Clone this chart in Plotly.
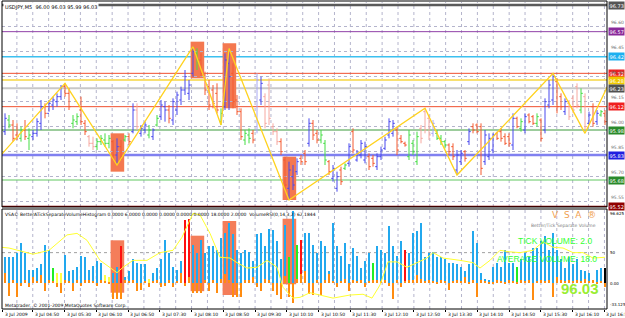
import plotly.graph_objects as go

# ---------------- data ----------------
high = [96.08,96.07,96.04,96.02,96.00,96.04,95.99,95.98,96.05,96.16,96.14,96.16,96.18,96.20,96.25,96.26,96.23,96.07,96.08,96.18,
        96.04,95.95,95.94,95.93,95.95,95.96,95.95,95.92,95.93,95.92,95.95,95.96,96.14,96.14,96.01,96.03,96.01,95.99,96.07,96.16,
        96.15,96.13,96.17,96.21,96.24,96.34,96.28,96.48,96.47,96.44,96.33,96.28,96.25,96.26,96.11,96.44,96.47,96.38,96.19,96.11,
        95.98,95.99,95.98,96.32,96.30,96.20,96.29,96.02,95.99,95.93,95.82,95.79,95.77,95.81,95.83,95.86,96.05,96.04,95.98,95.98,
        95.92,95.80,95.77,95.73,95.76,95.78,95.90,95.99,95.86,95.92,95.91,95.84,95.83,95.84,95.88,95.94,96.05,96.04,96.00,95.95,
        95.91,95.98,95.92,95.97,96.01,96.11,96.07,96.04,95.98,95.95,95.92,95.90,95.90,95.86,95.86,95.86,95.99,96.02,96.02,96.02,
        95.98,95.96,95.96,95.97,95.99,95.96,95.96,96.08,96.06,96.05,96.08,96.08,96.07,96.08,96.05,96.17,96.28,96.32,96.29,96.20,
        96.17,96.16,96.19,96.26,96.23,96.20,96.09,96.14,96.10,96.10,96.10]
low = [95.95,95.99,95.91,95.92,95.91,95.92,95.86,95.92,95.94,95.98,96.05,96.09,96.10,96.12,96.16,96.18,96.10,95.99,96.01,96.01,
       95.95,95.88,95.86,95.86,95.89,95.88,95.87,95.80,95.77,95.80,95.91,95.89,95.96,95.98,95.94,95.96,95.93,95.92,96.00,96.04,
       96.03,96.02,96.01,96.07,96.13,96.19,96.16,96.30,96.34,96.30,96.19,96.10,96.11,96.08,96.01,96.10,96.10,96.11,96.07,95.92,
       95.89,95.90,95.90,95.96,96.13,95.99,96.01,95.95,95.89,95.83,95.62,95.56,95.62,95.71,95.77,95.77,95.88,95.92,95.90,95.90,
       95.77,95.71,95.67,95.61,95.65,95.74,95.76,95.84,95.79,95.81,95.78,95.74,95.76,95.74,95.80,95.86,95.93,95.94,95.83,95.90,
       95.88,95.80,95.83,95.77,95.90,95.96,95.92,95.94,95.92,95.89,95.87,95.83,95.80,95.71,95.77,95.79,95.89,95.96,95.96,95.71,
       95.77,95.80,95.84,95.92,95.91,95.89,95.88,95.86,95.99,95.97,95.96,96.02,96.01,96.00,95.91,95.96,96.11,96.13,96.08,96.10,
       96.07,96.04,96.08,96.11,96.08,95.98,96.01,96.00,96.01,96.06,96.01]
opn = [95.97,96.04,96.01,95.95,95.93,95.98,95.93,95.94,95.96,96.02,96.12,96.08,96.13,96.15,96.18,96.24,96.20,96.02,96.03,96.10,
       96.02,95.94,95.90,95.88,95.91,95.92,95.90,95.91,95.83,95.88,95.92,95.94,95.97,96.10,95.96,95.98,95.95,95.94,96.01,96.06,
       96.12,96.10,96.04,96.10,96.16,96.22,96.20,96.32,96.44,96.40,96.31,96.24,96.22,96.20,96.03,96.12,96.38,96.32,96.16,96.09,
       95.92,95.95,95.96,95.98,96.16,96.18,96.25,96.00,95.97,95.91,95.80,95.63,95.70,95.73,95.81,95.84,95.90,96.02,95.96,95.92,
       95.90,95.79,95.69,95.63,95.74,95.75,95.78,95.97,95.80,95.83,95.80,95.82,95.81,95.76,95.82,95.87,95.95,95.96,95.98,95.93,
       95.90,95.82,95.90,95.79,95.99,96.09,96.05,95.96,95.96,95.93,95.91,95.89,95.88,95.74,95.79,95.85,95.91,96.00,96.01,96.00,
       95.79,95.82,95.86,95.96,95.97,95.94,95.94,95.89,96.05,95.99,95.98,96.07,96.06,96.02,96.04,95.98,96.13,96.16,96.27,96.18,
       96.09,96.14,96.17,96.24,96.10,96.18,96.02,96.12,96.03,96.07,96.08]
cls = [96.05,96.01,95.93,95.94,95.98,95.94,95.95,95.96,96.03,96.12,96.08,96.14,96.16,96.18,96.24,96.20,96.12,96.04,96.06,96.03,
       95.97,95.90,95.88,95.91,95.93,95.90,95.93,95.83,95.88,95.82,95.94,95.91,96.10,96.00,95.99,96.01,95.98,95.98,96.05,96.13,
       96.10,96.05,96.15,96.19,96.22,96.30,96.25,96.45,96.40,96.32,96.22,96.13,96.14,96.10,96.08,96.40,96.30,96.15,96.09,95.94,
       95.96,95.93,95.92,96.28,96.26,96.02,96.05,95.97,95.91,95.85,95.65,95.74,95.65,95.79,95.79,95.79,96.02,95.95,95.92,95.95,
       95.80,95.73,95.75,95.70,95.67,95.77,95.88,95.86,95.84,95.90,95.88,95.76,95.78,95.82,95.86,95.92,96.03,96.02,95.86,95.91,
       95.89,95.95,95.85,95.94,95.93,95.98,95.95,96.02,95.93,95.91,95.89,95.85,95.82,95.83,95.84,95.81,95.97,95.98,95.97,95.75,
       95.95,95.93,95.95,95.93,95.93,95.90,95.90,96.05,96.00,96.03,96.06,96.03,96.02,96.06,95.93,96.15,96.25,96.30,96.12,96.12,
       96.15,96.06,96.10,96.13,96.20,96.00,96.07,96.02,96.08,96.09,96.03]
bar_kind = list("BGRRGRGBBBRBBBBRRGGRRPPGGGGRBRGRBPBBGBGBBRBBBBBBGRRRRRGBBRRRGGRLBPPPPRRBBBRRBRRGGRBBRGBRBBBRRBBBBBRRRGGGPPPLGGGRRBBRBRRRBBBRRRRBRGBRRGRBBBRRBPPPGPBRBGR")

vol = [34,34,34,39,53,39,17,17,20,25,50,43,20,14,14,37,16,18,22,36,
       34,18,23,29,26,11,9,13,22,49,9,16,32,27,25,25,6,13,20,32,
       57,39,22,18,29,82,84,50,39,57,39,48,48,43,59,66,78,64,43,39,
       43,41,29,64,66,48,71,69,55,32,76,34,94,50,56,65,65,50,39,55,
       48,16,79,48,36,53,25,46,36,20,29,39,27,48,43,39,75,48,36,55,
       43,39,66,68,79,34,39,41,34,34,32,27,27,25,22,16,25,68,53,13,
       6,4,22,27,22,43,27,27,22,32,39,34,46,46,55,62,43,66,43,32,
       20,34,25,32,18,16,13,4,18,20,20]
vol_kind = list("BBBBBBBBBBBBGYYBBBBBBBBBBYYBBRBBBBBBYBBBBBBBBRRBBBBBBBBBBBBBBBBBBBBBBBBGBGRBBBBBBBBBBBBBBBBBGBBBBBBBRBBBBBBBBBBBBBBBBBBBBBBBBBBBGBBBBBBBBBBBBBBBBBBYBB")
sep = [13,-16,5,-18,-3,4,-5,8,3,11,-10,5,3,-5,-12,5,3,-10,4,-3,
       5,5,3,-3,4,3,2,-20,-20,-20,4,3,5,-10,-8,3,-4,3,4,-5,
       -3,5,-4,3,14,-3,8,-12,-12,-12,5,-10,4,-12,6,12,4,-18,-18,-18,
       5,4,8,-5,-10,6,4,-10,-15,-20,10,-18,-25,6,12,16,-14,-15,5,-15,
       4,12,3,-5,3,6,-10,4,3,5,-5,3,4,5,3,4,-3,-20,5,-5,
       3,5,4,11,6,3,4,3,2,5,3,-8,3,4,3,8,2,4,-18,4,
       3,2,2,5,3,2,4,3,2,5,3,5,-22,3,4,3,5,-18,8,4,
       3,5,3,4,3,6,3,4,2,3,-5]

rsi_x = [0,2,8,12,16.5,19,21.5,24.75,29,30.5,33,36.5,39.75,43,45.25,48,49.75,52.25,54.75,57.25,59,61.5,64,66.5,69,70.5,73,
         74.75,77.25,79.75,83,87.25,90.5,92.75,94.75,96.75,99,101.5,104,106.5,108,110.5,114.75,118,119.75,122.25,124.75,
         127.25,129.75,133,135.5,138,140.5,143,145.5,148,151]
rsi_y = [47,46,38,43,63,65,56,30,14,21,30,30,40,43,60,91,89,65,34,33,27,20,21,30,21,-5,-19,
         -18,-12,-15,-19,-15,-14,-19,-2,28,28,21,27,33,40,33,30,27,20,30,43,
         41,40,43,54,47,46,40,40,33,34]

zz_x = [0,16,29,48,55,57,72,106,114,138,146,152]
zz_y = [95.83,96.26,95.77,96.48,96.01,96.47,95.56,96.11,95.71,96.32,95.96,96.26]

level_price = [96.73,96.57,96.42,96.32,96.28,96.23,96.12,95.98,95.83,95.68,95.52]
level_color = ["#5a5a5a","#9040a8","#3cc0f0","#f05030","#f8e070","#c8c8c8","#f05030","#3a9a3a","#8080f0","#60c860","#800000"]
level_width = [2.5,1,1.5,1,2,2,1,1,2.5,1,2]
level_box = ["#555555","#8a2a9a","#1eb0f0","#f02020","#f0c800","#505050","#f02020","#2a8a2a","#2020e0","#2a8a2a","#900000"]

grid_prices = [96.60,96.45,96.30,96.15,96.00,95.85,95.70,95.55]

# highlight zones: first bar, last bar, price top, price bottom, vol top, vol bottom
zones = [(28,30,95.96,95.73,56,-12),(48,50,96.51,96.29,62,-10),(56,58,96.50,96.11,81,-15),(71,73,95.82,95.56,84,-1)]

time_labels = ["3 Jul 2009","3 Jul 04:50","3 Jul 05:30","3 Jul 06:10","3 Jul 06:50","3 Jul 07:30","3 Jul 08:10",
               "3 Jul 08:50","3 Jul 09:30","3 Jul 10:10","3 Jul 10:50","3 Jul 11:30","3 Jul 12:10","3 Jul 12:50",
               "3 Jul 13:30","3 Jul 14:10","3 Jul 14:50","3 Jul 15:30","3 Jul 16:10","3 Jul 16:50"]

# ---------------- figure ----------------
W, H = 625, 318
def px(x): return x / W
def py(y): return 1 - y / H

BAR_COL = {"B": "#4848ee", "R": "#f45a30", "G": "#44dd44", "P": "#f6a8a0", "L": "#a8a8f4"}
VOL_COL = {"B": "#22a8ee", "R": "#ff1010", "G": "#22ee22", "Y": "#ffff44"}

fig = go.Figure()
idx = list(range(1, len(high) + 1))

for code, colr in BAR_COL.items():
    xs, ys = [], []
    for i, k, h, l, o, c in zip(idx, bar_kind, high, low, opn, cls):
        if k != code:
            continue
        xs += [i, i, None, i - 0.45, i, None, i, i + 0.45, None]
        ys += [l, h, None, o, o, None, c, c, None]
    fig.add_trace(go.Scatter(x=xs, y=ys, mode="lines", line=dict(color=colr, width=1),
                             xaxis="x", yaxis="y", hoverinfo="skip", showlegend=False))

fig.add_trace(go.Scatter(x=zz_x, y=zz_y, mode="lines", line=dict(color="#ffd21e", width=1.3),
                         xaxis="x", yaxis="y", hoverinfo="skip", showlegend=False))

fig.add_trace(go.Bar(x=idx, y=vol, marker=dict(color=[VOL_COL[k] for k in vol_kind], line=dict(width=0)),
                     width=0.72, xaxis="x", yaxis="y2", showlegend=False, hoverinfo="skip"))
fig.add_trace(go.Bar(x=idx, y=sep, marker=dict(color="#ff8c10", line=dict(width=0)),
                     width=0.72, xaxis="x", yaxis="y2", showlegend=False, hoverinfo="skip"))
fig.add_trace(go.Scatter(x=rsi_x, y=rsi_y, mode="lines", line=dict(color="#ffff30", width=1),
                         xaxis="x", yaxis="y2", hoverinfo="skip", showlegend=False))

shapes = []
# vertical grid every 4 bars
for k in range(1, 39):
    gx = k * 3.97
    for (y0, y1) in [(py(207), py(2)), (py(309), py(209))]:
        shapes.append(dict(type="line", xref="x", yref="paper", x0=gx, x1=gx, y0=y0, y1=y1,
                           line=dict(color="#b4b4cc", width=1, dash="dot"), layer="below"))
# zones
for (b0, b1, pt, pb, vt, vb) in zones:
    shapes.append(dict(type="rect", xref="x", yref="y", x0=b0 - 0.6, x1=b1 + 0.8, y0=pb, y1=pt,
                       fillcolor="rgb(244,120,80)", line=dict(width=0), layer="below"))
    shapes.append(dict(type="rect", xref="x", yref="y2", x0=b0 - 0.6, x1=b1 + 0.8, y0=vb, y1=vt,
                       fillcolor="rgb(244,125,90)", line=dict(width=0), layer="below"))
# price levels
for p, c, w in zip(level_price, level_color, level_width):
    shapes.append(dict(type="line", xref="paper", yref="y", x0=px(2), x1=px(607), y0=p, y1=p,
                       line=dict(color=c, width=w), layer="below"))
# subwindow level
shapes.append(dict(type="line", xref="paper", yref="y2", x0=px(2), x1=px(607), y0=40, y1=40,
                   line=dict(color="#a0a0a0", width=1, dash="dot"), layer="below"))
# frames
shapes.append(dict(type="rect", xref="paper", yref="paper", x0=px(2), x1=px(607), y0=py(207), y1=py(1),
                   line=dict(color="#000000", width=1)))
shapes.append(dict(type="rect", xref="paper", yref="paper", x0=px(2), x1=px(607), y0=py(309), y1=py(209),
                   line=dict(color="#000000", width=1)))

ann = []
F = "DejaVu Sans"
ann.append(dict(text="USDJPY,M5  96.00 96.03 95.99 96.03", xref="paper", yref="paper", x=px(3), y=py(1.5),
                xanchor="left", yanchor="top", showarrow=False, font=dict(family=F, size=5, color="#000000"),
                bgcolor="#ffffff", borderpad=1))
for p, c in zip(level_price, level_box):
    ann.append(dict(text=f"{p:.2f}", xref="paper", yref="y", x=px(608), y=p, xanchor="left", yanchor="middle",
                    showarrow=False, font=dict(family=F, size=5, color="#ffffff"), bgcolor=c, borderpad=0.5))
for p in grid_prices:
    ann.append(dict(text=f"{p:.2f}", xref="paper", yref="y", x=px(609), y=p, xanchor="left", yanchor="bottom",
                    showarrow=False, font=dict(family=F, size=4.5, color="#707070")))
label_x = [0.4] + [k * 7.94 for k in range(1, len(time_labels))]
for lx, t in zip(label_x, time_labels):
    ann.append(dict(text=t, xref="x", yref="paper", x=lx, y=py(309.5), xanchor="left", yanchor="top",
                    showarrow=False, font=dict(family=F, size=4.5, color="#000000")))
for t, v, ya in [("96.625", 96.625, "top"), ("50", 40, "middle"), ("0.00", 0, "middle"), ("-33.125", -33.125, "bottom")]:
    ann.append(dict(text=t, xref="paper", yref="y2", x=px(608), y=v, xanchor="left", yanchor=ya,
                    showarrow=False, font=dict(family=F, size=4, color="#000000")))
ann.append(dict(text="VSA© BetterATickSeparateVolumeHistogram 0.0000 6.0000 0.0000 0.0000 0.0000 0.0000 18.0000 2.0000  VolumeRSI(0,14,3,2) 62.1844",
                xref="paper", yref="paper", x=px(3), y=py(210), xanchor="left", yanchor="top", showarrow=False,
                font=dict(family=F, size=4.5, color="#000000")))
ann.append(dict(text="V  S  A  ®", xref="paper", yref="paper", x=px(598), y=py(208), xanchor="right", yanchor="top",
                showarrow=False, font=dict(family=F, size=9, color="#f0a050")))
ann.append(dict(text="Better/Tick Separate Volume", xref="paper", yref="paper", x=px(598), y=py(221), xanchor="right",
                yanchor="top", showarrow=False, font=dict(family=F, size=4.5, color="#808080")))
ann.append(dict(text="TICK VOLUME: 2.0", xref="paper", yref="paper", x=px(594), y=py(241), xanchor="right",
                yanchor="middle", showarrow=False, font=dict(family="Liberation Sans", size=8.5, color="#33ff33")))
ann.append(dict(text="AVERAGE VOLUME: 18.0", xref="paper", yref="paper", x=px(599), y=py(259), xanchor="right",
                yanchor="middle", showarrow=False, font=dict(family="Liberation Sans", size=8.5, color="#33ff33")))
ann.append(dict(text="<b>96.03</b>", xref="paper", yref="paper", x=px(601), y=py(288), xanchor="right",
                yanchor="middle", showarrow=False, font=dict(family="Liberation Sans", size=15, color="#99ee33")))
ann.append(dict(text="Metatrader, © 2001-2009 MetaQuotes Software Corp.", xref="paper", yref="paper", x=px(3),
                y=py(301), xanchor="left", yanchor="top", showarrow=False, font=dict(family=F, size=4.5, color="#000000")))

fig.update_layout(
    width=W, height=H, margin=dict(l=0, r=0, t=0, b=0),
    paper_bgcolor="#ffffff", plot_bgcolor="rgba(0,0,0,0)",
    barmode="overlay", bargap=0,
    showlegend=False,
    xaxis=dict(domain=[px(2), px(607)], range=[0.25, 151.5], anchor="y2", showgrid=False, zeroline=False,
               showticklabels=False, ticks="outside", ticklen=2, tickcolor="#000000",
               tickvals=label_x),
    yaxis=dict(domain=[py(207), py(2)], range=[95.518, 96.748], anchor="x", side="right",
               showticklabels=False, zeroline=False, showgrid=True, gridcolor="#b4b4cc", griddash="dot",
               tickvals=grid_prices),
    yaxis2=dict(domain=[py(309), py(209)], range=[-33.125, 96.625], anchor="x", side="right",
                showticklabels=False, zeroline=False, showgrid=False),
    shapes=shapes, annotations=ann,
)

fig.write_html("out.html")
